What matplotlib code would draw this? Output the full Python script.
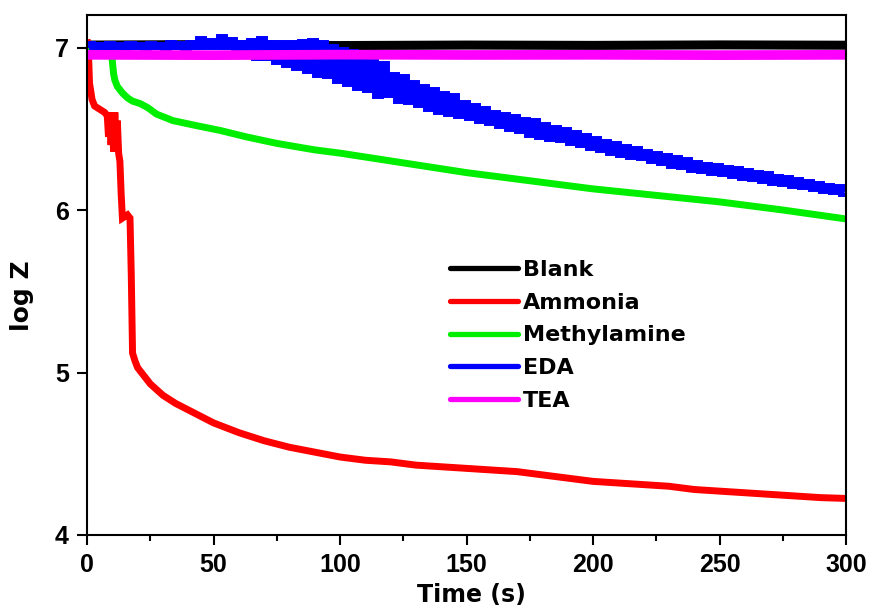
import numpy as np
import matplotlib
matplotlib.use("Agg")
import matplotlib.pyplot as plt
from matplotlib.lines import Line2D
from matplotlib.ticker import MultipleLocator

# ---------------- data ----------------
blank_t = [0, 50, 100, 150, 200, 250, 300]
blank_v = [7.015, 7.018, 7.012, 7.015, 7.013, 7.016, 7.014]

tea_t = [0, 50, 100, 150, 200, 250, 300]
tea_v = [6.955, 6.953, 6.956, 6.954, 6.955, 6.953, 6.955]

ammonia_t = [0, 0.5, 1, 2, 3, 5, 7, 8, 8.5, 9, 9.5, 10, 10.5, 11, 11.5, 12,
             12.5, 13, 13.5, 14, 15, 16, 17, 17.5, 18, 19, 20, 22, 25, 30,
             35, 40, 45, 50, 60, 70, 80, 90, 100, 110, 120, 130, 140, 150,
             160, 170, 180, 190, 200, 210, 220, 230, 240, 250, 260, 270,
             280, 290, 300]
ammonia_v = [7.05, 7.0, 6.78, 6.68, 6.64, 6.62, 6.60, 6.58, 6.45, 6.60, 6.40,
             6.58, 6.36, 6.60, 6.38, 6.55, 6.35, 6.30, 6.10, 5.95, 5.96,
             5.97, 5.95, 5.60, 5.12, 5.07, 5.03, 4.99, 4.93, 4.86, 4.81,
             4.77, 4.73, 4.69, 4.63, 4.58, 4.54, 4.51, 4.48, 4.46, 4.45,
             4.43, 4.42, 4.41, 4.40, 4.39, 4.37, 4.35, 4.33, 4.32, 4.31,
             4.30, 4.28, 4.27, 4.26, 4.25, 4.24, 4.23, 4.225]

methyl_t = [0, 5, 9, 10, 10.5, 11, 12, 13, 14, 16, 18, 21, 24, 27.5, 34, 43,
            52.5, 63, 75, 90, 100, 125, 150, 175, 200, 225, 250, 275, 300]
methyl_v = [7.0, 7.0, 6.99, 6.92, 6.84, 6.80, 6.76, 6.74, 6.72, 6.69, 6.67,
            6.655, 6.63, 6.59, 6.55, 6.52, 6.49, 6.45, 6.41, 6.37, 6.35,
            6.29, 6.23, 6.18, 6.13, 6.09, 6.05, 6.00, 5.945]

# EDA oscillates: one high and one low reading per 4 s cycle (t = 0, 4, ... 296)
eda_hi = [7.02, 7.015, 7.02, 7.015, 7.02, 7.015, 7.02, 7.015, 7.025, 7.02,
          7.03, 7.05, 7.04, 7.065, 7.045, 7.03, 7.04, 7.05, 7.03, 7.03,
          7.03, 7.035, 7.04, 7.03, 7.005, 6.985, 6.97, 6.96, 6.95, 6.90,
          6.83, 6.82, 6.78, 6.755, 6.74, 6.715, 6.70, 6.66, 6.64, 6.62,
          6.60, 6.585, 6.57, 6.555, 6.545, 6.525, 6.505, 6.49, 6.475, 6.455,
          6.435, 6.42, 6.405, 6.39, 6.375, 6.36, 6.345, 6.33, 6.32, 6.305,
          6.29, 6.28, 6.27, 6.26, 6.25, 6.24, 6.23, 6.22, 6.205, 6.195,
          6.185, 6.17, 6.16, 6.15, 6.14]
eda_lo = [7.01, 7.005, 7.01, 7.005, 7.01, 7.005, 7.01, 7.005, 7.01, 7.005,
          7.01, 7.01, 7.01, 7.01, 7.0, 6.96, 6.94, 6.94, 6.92, 6.90,
          6.88, 6.86, 6.84, 6.83, 6.80, 6.78, 6.76, 6.745, 6.71, 6.715,
          6.68, 6.67, 6.65, 6.625, 6.61, 6.595, 6.585, 6.57, 6.555, 6.54,
          6.525, 6.505, 6.49, 6.47, 6.455, 6.445, 6.435, 6.42, 6.405, 6.39,
          6.375, 6.36, 6.345, 6.335, 6.325, 6.31, 6.295, 6.28, 6.27, 6.255,
          6.245, 6.235, 6.225, 6.215, 6.205, 6.195, 6.185, 6.175, 6.165, 6.155,
          6.145, 6.135, 6.125, 6.115, 6.105]
eda_cycle = 4.0
eda_end = 6.11

labels = ["Blank", "Ammonia", "Methylamine", "EDA", "TEA"]
colors = ["#000000", "#ff0000", "#00ee00", "#0000ff", "#ff00ff"]
x_ticks = [0, 50, 100, 150, 200, 250, 300]
y_ticks = [4, 5, 6, 7]

# ---------------- build EDA step series from the readings ----------------
eda_t, eda_v = [], []
for k, (h, l) in enumerate(zip(eda_hi, eda_lo)):
    eda_t += [k * eda_cycle, k * eda_cycle + eda_cycle / 2]
    eda_v += [h, l]
eda_t.append(300)
eda_v.append(eda_end)

# ---------------- figure ----------------
fig = plt.figure(figsize=(8.72, 6.13), dpi=100)
ax = fig.add_axes([87 / 872, 1 - 535 / 613, (846 - 87) / 872, (535 - 15) / 613])

lw = 5.0
ax.plot(blank_t, blank_v, color=colors[0], lw=6.5, solid_capstyle="butt")
ax.plot(ammonia_t, ammonia_v, color=colors[1], lw=lw, solid_capstyle="butt",
        solid_joinstyle="miter")
ax.plot(methyl_t, methyl_v, color=colors[2], lw=lw, solid_capstyle="butt")
ax.plot(eda_t, eda_v, color=colors[3], lw=lw, drawstyle="steps-post",
        solid_capstyle="butt", solid_joinstyle="miter")
ax.plot(tea_t, tea_v, color=colors[4], lw=7.0, solid_capstyle="butt")

ax.set_xlim(0, 300)
ax.set_ylim(4, 7.2)
ax.set_xticks(x_ticks)
ax.set_yticks(y_ticks)
ax.xaxis.set_minor_locator(MultipleLocator(25))

for s in ax.spines.values():
    s.set_linewidth(1.5)
ax.tick_params(axis="both", which="major", direction="out", length=7,
               width=1.5, top=False, right=False, pad=6)
ax.tick_params(axis="x", which="minor", direction="out", length=4,
               width=1.5, top=False)
ax.tick_params(axis="y", which="minor", left=False, right=False)

tick_font = dict(family="Liberation Sans", weight="bold", size=18)
ax.set_xticklabels([str(v) for v in x_ticks], fontdict=tick_font)
ax.set_yticklabels([str(v) for v in y_ticks], fontdict=tick_font)

ax.set_xlabel("Time (s)", fontsize=17, fontweight="bold", family="DejaVu Sans")
ax.xaxis.set_label_coords((471 - 87) / 759, -(583 - 535) / 520)
ax.xaxis.label.set_va("top")
ax.set_ylabel("log Z", fontsize=18, fontweight="bold", family="DejaVu Sans")
ax.yaxis.set_label_coords(-(87 - 34) / 759, 1 - (296 - 15) / 520)

handles = [Line2D([0], [0], color=c, lw=3.8, solid_capstyle="round")
           for c in colors]
leg = fig.legend(handles, labels, loc="upper left",
                 bbox_to_anchor=(450 / 872, 1 - 260 / 613),
                 bbox_transform=fig.transFigure, frameon=False,
                 borderpad=0, borderaxespad=0, handlelength=3.05,
                 handletextpad=0.22, labelspacing=0.57,
                 prop=dict(family="DejaVu Sans", weight="bold", size=16))

fig.savefig("out.png", dpi=100)
